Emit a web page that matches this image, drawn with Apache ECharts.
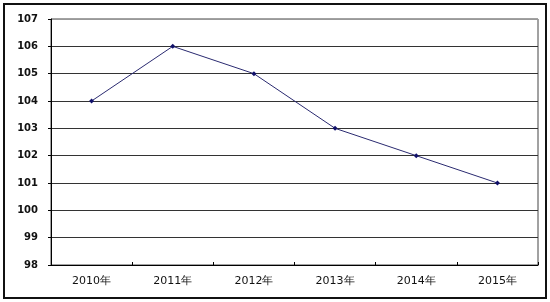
<!DOCTYPE html>
<html><head><meta charset="utf-8">
<script src="https://cdn.jsdelivr.net/npm/echarts@6/dist/echarts.min.js"></script>
<style>
html,body{margin:0;padding:0;background:#fff;}
#frame{position:absolute;left:3px;top:3px;width:540px;height:292px;border:2px solid #111;}
#c{position:absolute;left:0;top:0;width:550px;height:302px;}
</style></head>
<body>
<div id="frame"></div>
<div id="c"></div>
<script>
const categories = ['2010年','2011年','2012年','2013年','2014年','2015年'];
const values = [104, 106, 105, 103, 102, 101];
const yMin = 98, yMax = 107, yStep = 1;

const chart = echarts.init(document.getElementById('c'));
chart.setOption({
  animation: false,
  grid: {left: 51, right: 12, top: 19, bottom: 37, show: true, borderColor: '#444', borderWidth: 1, backgroundColor: 'transparent'},
  xAxis: {
    type: 'category', data: categories, boundaryGap: true,
    axisLine: {lineStyle: {color: '#000', width: 1}},
    axisTick: {show: true, inside: true, length: 3, lineStyle: {color: '#000'}},
    axisLabel: {color: '#111', fontSize: 11, fontFamily: 'DejaVu Sans', margin: 11}
  },
  yAxis: {
    type: 'value', min: yMin, max: yMax, interval: yStep,
    axisLine: {show: true, lineStyle: {color: '#000', width: 1}},
    axisTick: {show: true, length: 3, lineStyle: {color: '#000'}},
    splitLine: {lineStyle: {color: ['#333','#333','#333','#333','#333','#333','#333','#333','#333','#999'], width: 1}},
    axisLabel: {color: '#111', fontSize: 10, fontFamily: 'DejaVu Sans', fontWeight: 'bold', margin: 13}
  },
  series: [{
    type: 'line', data: values,
    lineStyle: {color: '#2a2a70', width: 1},
    itemStyle: {color: '#10106a'},
    symbol: 'diamond', symbolSize: 5
  }]
});
</script>
</body></html>
